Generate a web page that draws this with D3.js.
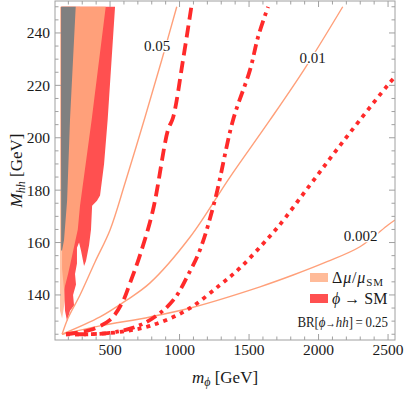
<!DOCTYPE html>
<html>
<head>
<meta charset="utf-8">
<script src="https://cdn.jsdelivr.net/npm/d3@7"></script>
<style>
  body { margin: 0; background: #fff; }
  text { font-family: "Liberation Serif", "DejaVu Serif", serif; fill: #1a1a1a; }
  path.contour { fill: none; stroke: #ffa07a; stroke-width: 1.4; }
  path.red { fill: none; stroke: #ff2a2a; stroke-width: 3.8; }
</style>
</head>
<body>
<script>

var width = 407,
    height = 393;

// tick values
var xTicks = [500, 1000, 1500, 2000, 2500];
var yTicks = [140, 160, 180, 200, 220, 240];

// shaded regions [m_phi, M_hh]
var lightRegion = [[140,250],[284,250],[183,157],[176,138],[155,131],[140,134]];
var redRegion = [[147,250],[536,250],[483,207],[457,190],[428,178],[406,176],[371,174],[363,165],
                 [349,159],[327,153],[313,151],[291,157],[277,160],[262,158],[262,152],[248,148],
                 [255,144],[234,140],[241,136],[212,134],[191,130],[176,134],[169,146],[162,161],
                 [155,176],[147,195]];
var salmonRegion = [[253,250],[469,250],[368,207],[284,174],[268,165],[227,155],[198,148],[169,142],[155,150],[155,250]];
var grayRegion = [[148,250],[253,250],[212,207],[191,176],[169,161],[155,157],[148,157]];

// contours of Delta mu / mu_SM
var c005 = [[155,125],[198,131.2],[284,140],[392,152.6],[500,164.8],[608,182.7],[752,207.9],[872,229.7],[980,250]];
var c001 = [[155,125],[428,131.6],[622,138.1],[788,144.6],[1076,162.1],[1363,185],[1651,206.8],[1903,226.6],[2174,250]];
var c0002 = [[155,125],[428,128.2],[788,131.6],[1076,135],[1579,143.1],[1817,147.6],[2061,152.7],[2298,158.4],[2500,166.7],[2550,168.6]];

// phi -> SM limits
var dashed = [[183,125],[356,126.6],[500,130.5],[586,136.9],[644,144.6],[716,155.3],[809,172.4],[917,203],[953,207.6],[1025,229.7],[1085,250]];
var dashDot = [[248,125],[500,125.5],[716,128.5],[860,133.1],[968,138.9],[1054,146.9],[1147,157.2],[1255,176.3],[1385,206.8],[1507,225.9],[1565,238.5],[1637,250]];
var dotted = [[183,125],[356,125],[572,125.9],[788,128.2],[1054,134.3],[1291,143.8],[1435,150.3],[1593,159.1],[1709,166],[1939,182],[2119,194.6],[2298,206.8],[2500,220.2],[2550,223.2]];

var pLeft = 55, pRight = 395, pTop = 1, pBottom = 340;

var x = d3.scaleLinear().domain([104, 2550]).range([pLeft, pRight]);
var y = d3.scaleLinear().domain([122.8, 252.2]).range([pBottom, pTop]);

var svg = d3.select("body").append("svg")
    .attr("width", width)
    .attr("height", height);

svg.append("clipPath").attr("id", "clip")
  .append("rect")
    .attr("x", pLeft).attr("y", pTop)
    .attr("width", pRight - pLeft).attr("height", pBottom - pTop);

var plot = svg.append("g").attr("clip-path", "url(#clip)");

var area = d3.line()
    .x(function(d){ return x(d[0]); })
    .y(function(d){ return y(d[1]); });

var curve = d3.line()
    .x(function(d){ return x(d[0]); })
    .y(function(d){ return y(d[1]); })
    .curve(d3.curveCatmullRom.alpha(0.5));

[[lightRegion, "#ffc4a6"], [redRegion, "#ff5050"], [salmonRegion, "#ffa07a"], [grayRegion, "#808080"]]
  .forEach(function(r){
    plot.append("path")
        .attr("d", area(r[0]) + "Z")
        .attr("fill", r[1]);
  });

[c005, c001, c0002].forEach(function(c){
  plot.append("path").attr("class", "contour").attr("d", curve(c));
});

plot.append("path").attr("class", "red").attr("d", curve(dashed))
    .attr("stroke-dasharray", "12,6");
plot.append("path").attr("class", "red").attr("d", curve(dashDot))
    .attr("stroke-dasharray", "11,5,3.5,5");
plot.append("path").attr("class", "red").attr("d", curve(dotted))
    .attr("stroke-dasharray", "4,5");

// contour labels
var cLabels = [["0.05", 838, 235], ["0.01", 1958, 230.6], ["0.002", 2302, 162.5]];
cLabels.forEach(function(l){
  var g = plot.append("g").attr("transform", "translate(" + x(l[1]) + "," + y(l[2]) + ")");
  var t = g.append("text")
      .attr("text-anchor", "middle")
      .attr("dy", "0.35em")
      .style("font-size", "15px")
      .text(l[0]);
  var b = t.node().getBBox();
  g.insert("rect", "text")
      .attr("x", b.x - 1).attr("y", b.y + 2)
      .attr("width", b.width + 2).attr("height", b.height - 4)
      .attr("fill", "#fff");
});

// frame and ticks
svg.append("rect")
    .attr("x", pLeft).attr("y", pTop)
    .attr("width", pRight - pLeft).attr("height", pBottom - pTop)
    .attr("fill", "none").attr("stroke", "#a0a0a0");

var axes = svg.append("g").attr("stroke", "#a0a0a0");

d3.range(200, 2600, 100).forEach(function(v){
  var len = xTicks.indexOf(v) >= 0 ? 6 : 3.5;
  axes.append("line").attr("x1", x(v)).attr("x2", x(v)).attr("y1", pBottom).attr("y2", pBottom - len);
  axes.append("line").attr("x1", x(v)).attr("x2", x(v)).attr("y1", pTop).attr("y2", pTop + len);
});
d3.range(125, 255, 5).forEach(function(v){
  var len = yTicks.indexOf(v) >= 0 ? 6 : 3.5;
  axes.append("line").attr("y1", y(v)).attr("y2", y(v)).attr("x1", pLeft).attr("x2", pLeft + len);
  axes.append("line").attr("y1", y(v)).attr("y2", y(v)).attr("x1", pRight).attr("x2", pRight - len);
});

svg.selectAll("text.xt").data(xTicks).enter().append("text")
    .attr("class", "xt")
    .attr("x", function(d){ return x(d); })
    .attr("y", 355)
    .attr("text-anchor", "middle")
    .style("font-size", "15.5px")
    .text(function(d){ return d; });

svg.selectAll("text.yt").data(yTicks).enter().append("text")
    .attr("class", "yt")
    .attr("x", 50)
    .attr("y", function(d){ return y(d); })
    .attr("dy", "0.35em")
    .attr("text-anchor", "end")
    .style("font-size", "15.5px")
    .text(function(d){ return d; });

// axis titles
var xt = svg.append("text")
    .attr("x", (pLeft + pRight) / 2)
    .attr("y", 383)
    .attr("text-anchor", "middle")
    .style("font-size", "17px");
xt.append("tspan").style("font-style", "italic").text("m");
xt.append("tspan").attr("dy", 3).style("font-size", "12px").style("font-style", "italic").text("\u03d5");
xt.append("tspan").attr("dy", -3).text(" [GeV]");

var yt = svg.append("text")
    .attr("transform", "translate(22," + ((pTop + pBottom) / 2) + ") rotate(-90)")
    .attr("text-anchor", "middle")
    .style("font-size", "17px");
yt.append("tspan").style("font-style", "italic").text("M");
yt.append("tspan").attr("dy", 3).style("font-size", "12px").style("font-style", "italic").text("hh");
yt.append("tspan").attr("dy", -3).text(" [GeV]");

// legend
var leg = svg.append("g");
leg.append("rect").attr("x", 310).attr("y", 273).attr("width", 18).attr("height", 9).attr("fill", "#ffbb99");
leg.append("rect").attr("x", 310).attr("y", 294).attr("width", 18).attr("height", 9).attr("fill", "#ff5050");

var l1 = leg.append("text").attr("x", 332).attr("y", 283).style("font-size", "16px")
    .attr("textLength", 51).attr("lengthAdjust", "spacing");
l1.append("tspan").text("\u0394");
l1.append("tspan").style("font-style", "italic").text("\u03bc");
l1.append("tspan").text("/");
l1.append("tspan").style("font-style", "italic").text("\u03bc");
l1.append("tspan").attr("dy", 3).style("font-size", "11px").text("SM");

var l2 = leg.append("text").attr("x", 332).attr("y", 304).style("font-size", "16px");
l2.append("tspan").style("font-style", "italic").text("\u03d5");
l2.append("tspan").text(" \u2192 SM");

var l3 = leg.append("g").attr("transform", "translate(388,327) scale(0.86,1)")
  .append("text")
    .attr("text-anchor", "end")
    .style("font-size", "15px");
l3.append("tspan").text("BR[");
l3.append("tspan").style("font-style", "italic").text("\u03d5");
l3.append("tspan").style("font-size", "12px").text("\u2192");
l3.append("tspan").style("font-style", "italic").text("hh");
l3.append("tspan").text("]\u2009=\u20090.25");

</script>
</body>
</html>
